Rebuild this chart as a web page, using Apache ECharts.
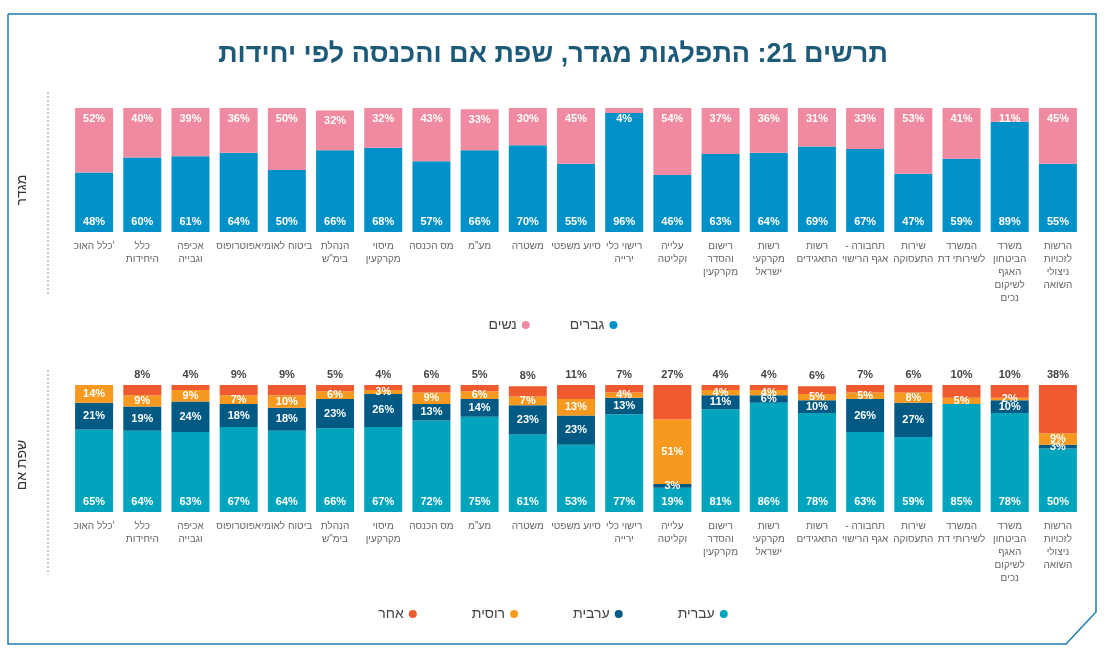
<!DOCTYPE html>
<html><head><meta charset="utf-8">
<script src="https://cdn.jsdelivr.net/npm/echarts@6/dist/echarts.min.js"></script>
<style>html,body{margin:0;padding:0;background:#fff}#c{width:1106px;height:651px}</style>
</head><body><div id="c"></div>
<script>
var categories=['כלל האוכ\'','כלל\nהיחידות','אכיפה\nוגבייה','אפוטרופוס','ביטוח לאומי','הנהלת\nבימ"ש','מיסוי\nמקרקעין','מס הכנסה','מע"מ','משטרה','סיוע משפטי','רישוי כלי\nירייה','עלייה\nוקליטה','רישום\nוהסדר\nמקרקעין','רשות\nמקרקעי\nישראל','רשות\nהתאגידים','- תחבורה\nאגף הרישוי','שירות\nהתעסוקה','המשרד\nלשירותי דת','משרד\nהביטחון\nהאגף\nלשיקום\nנכים','הרשות\nלזכויות\nניצולי\nהשואה'];
var men=[48,60,61,64,50,66,68,57,66,70,55,96,46,63,64,69,67,47,59,89,55];
var women=[52,40,39,36,50,32,32,43,33,30,45,4,54,37,36,31,33,53,41,11,45];
var hebrew=[65,64,63,67,64,66,67,72,75,61,53,77,19,81,86,78,63,59,85,78,50];
var arabic=[21,19,24,18,18,23,26,13,14,23,23,13,3,11,6,10,26,27,0,10,3];
var russian=[14,9,9,7,10,6,3,9,6,7,13,4,51,4,4,5,5,8,5,2,9];
var other=[0,8,4,9,9,5,4,6,5,8,11,7,27,4,4,6,7,6,10,10,38];

var chart=echarts.init(document.getElementById('c'));
var font='"Liberation Sans Narrow","Liberation Sans",sans-serif';
function lbl(pos,color){
  return {show:true,position:pos,color:color||'#fff',fontWeight:'bold',fontSize:11,fontFamily:font,
    formatter:function(p){return p.value?p.value+'%':'';}};
}
function bar(name,data,xi,color,pos,lc){
  return {name:name,type:'bar',stack:'s'+xi,xAxisIndex:xi,yAxisIndex:xi,data:data,barWidth:38,
    itemStyle:{color:color},label:lbl(pos,lc)};
}
function xAx(gi){
  return {type:'category',gridIndex:gi,data:categories,axisLine:{show:false},axisTick:{show:false},
    axisLabel:{interval:0,color:'#666',fontSize:10,fontFamily:font,lineHeight:13,margin:8}};
}
function yAx(gi){return {type:'value',gridIndex:gi,min:0,max:100,show:false};}
chart.setOption({
  animation:false,
  title:{text:'תרשים 21: התפלגות מגדר, שפת אם והכנסה לפי יחידות',left:'center',top:36,
    textStyle:{color:'#1d5a78',fontSize:27,fontWeight:'bold',fontFamily:font}},
  grid:[{left:70,right:24,top:108,height:124},{left:70,right:24,top:385,height:127}],
  xAxis:[xAx(0),xAx(1)],
  yAxis:[yAx(0),yAx(1)],
  legend:[
    {data:['נשים','גברים'],top:313,left:'center',align:'right',icon:'circle',itemWidth:8,itemHeight:8,itemGap:40,
      textStyle:{color:'#444',fontSize:14,fontFamily:font}},
    {data:['אחר','רוסית','ערבית','עברית'],top:602,left:'center',align:'right',icon:'circle',itemWidth:8,itemHeight:8,itemGap:55,
      textStyle:{color:'#444',fontSize:14,fontFamily:font}}
  ],
  series:[
    bar('גברים',men,0,'#0091c9','insideBottom'),
    bar('נשים',women,0,'#f08aa0','insideTop'),
    bar('עברית',hebrew,1,'#00a5bd','insideBottom'),
    bar('ערבית',arabic,1,'#005a84','inside'),
    bar('רוסית',russian,1,'#f7991f','inside'),
    bar('אחר',other,1,'#f05a2f','top','#444')
  ],
  graphic:[
    {type:'polyline',shape:{points:[[8,14],[1096,14],[1096,612],[1066,644],[8,644],[8,14]]},
      style:{stroke:'#1b7fa6',fill:null,lineWidth:1.5}},
    {type:'line',shape:{x1:48,y1:92,x2:48,y2:295},style:{stroke:'#999',lineDash:[2,2],lineWidth:1}},
    {type:'line',shape:{x1:48,y1:370,x2:48,y2:575},style:{stroke:'#999',lineDash:[2,2],lineWidth:1}},
    {type:'text',x:22,y:190,rotation:Math.PI/2,style:{text:'מגדר',fill:'#333',fontSize:14,fontFamily:font,align:'center',verticalAlign:'middle'}},
    {type:'text',x:22,y:465,rotation:Math.PI/2,style:{text:'שפת אם',fill:'#333',fontSize:14,fontFamily:font,align:'center',verticalAlign:'middle'}}
  ]
});
</script></body></html>
